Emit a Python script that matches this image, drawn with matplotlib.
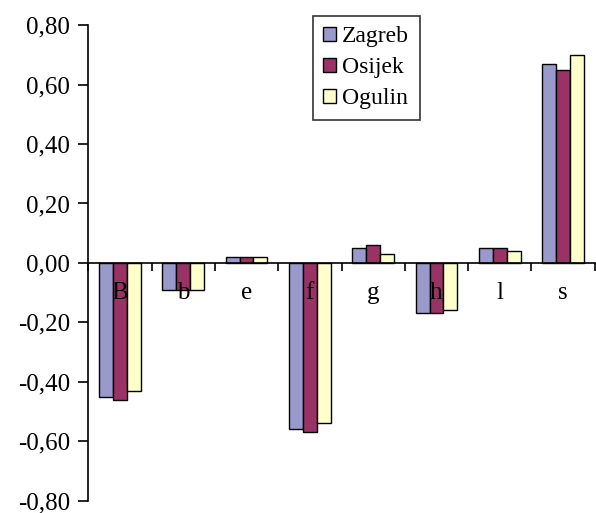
import numpy as np
import matplotlib.pyplot as plt
from matplotlib.ticker import FuncFormatter

categories = ['B', 'b', 'e', 'f', 'g', 'h', 'l', 's']
zagreb = [-0.45, -0.09, 0.02, -0.56, 0.05, -0.17, 0.05, 0.67]
osijek = [-0.46, -0.09, 0.02, -0.57, 0.06, -0.17, 0.05, 0.65]
ogulin = [-0.43, -0.09, 0.02, -0.54, 0.03, -0.16, 0.04, 0.70]

series = [('Zagreb', zagreb, '#9999cc'),
          ('Osijek', osijek, '#993366'),
          ('Ogulin', ogulin, '#ffffcc')]

plt.rcParams['font.family'] = ['Liberation Serif', 'DejaVu Serif']

fig = plt.figure(figsize=(5.96, 5.13), dpi=100)
ax = fig.add_axes([0.148, 0.024, 0.85, 0.927])
ax.set_axisbelow(False)

x = np.arange(len(categories))
w = 0.22
for i, (name, vals, col) in enumerate(series):
    ax.bar(x + (i - 1) * w, vals, w, color=col, edgecolor='black',
           linewidth=1.0, label=name, zorder=1)

ax.set_xlim(-0.5, len(categories) - 0.5)
ax.set_ylim(-0.8, 0.8)
ax.set_yticks(np.arange(-0.8, 0.81, 0.2))
ax.yaxis.set_major_formatter(FuncFormatter(lambda v, p: ('%.2f' % v).replace('-0.00', '0.00').replace('.', ',')))
ax.tick_params(axis='y', direction='out', length=7, width=1.2, labelsize=18, pad=6)

ax.spines['top'].set_visible(False)
ax.spines['right'].set_visible(False)
ax.spines['left'].set_linewidth(1.2)
ax.spines['bottom'].set_position(('data', 0))
ax.spines['bottom'].set_linewidth(1.2)

ax.set_xticks(np.arange(len(categories) + 1) - 0.5)
ax.set_xticklabels([])
ax.set_xticks(x, minor=True)
ax.set_xticklabels(categories, minor=True)
ax.tick_params(axis='x', which='major', direction='out', length=6, width=1.2)
ax.tick_params(axis='x', which='minor', length=0, labelsize=18, pad=14)

leg = ax.legend(loc='upper left', bbox_to_anchor=(0.443, 1.02), fontsize=17,
                frameon=True, fancybox=False, edgecolor='black',
                handlelength=0.55, handleheight=0.55, handletextpad=0.25,
                borderpad=0.45, labelspacing=0.42, borderaxespad=0.0)
leg.get_frame().set_linewidth(1.2)

fig.savefig('out.png', dpi=100)
